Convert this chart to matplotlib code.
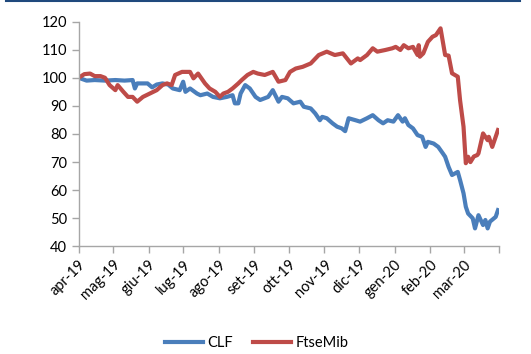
"""CLF vs FtseMib, base 100 (apr-19 = 100)."""
import matplotlib
matplotlib.use("Agg")
import matplotlib.pyplot as plt
from matplotlib.lines import Line2D
import pandas as pd

plt.rcParams["font.family"] = ["Lato", "DejaVu Sans"]

# valori (indice base 100)
clf_dates = [
    "2019-04-01", "2019-04-08", "2019-04-15", "2019-04-24", "2019-05-03", "2019-05-11",
    "2019-05-18", "2019-05-20", "2019-05-22", "2019-05-31", "2019-06-04", "2019-06-08",
    "2019-06-13", "2019-06-18", "2019-06-22", "2019-06-28", "2019-07-01", "2019-07-03",
    "2019-07-07", "2019-07-13", "2019-07-16", "2019-07-22", "2019-07-27", "2019-08-02",
    "2019-08-08", "2019-08-13", "2019-08-15", "2019-08-18", "2019-08-20", "2019-08-24",
    "2019-08-28", "2019-09-02", "2019-09-06", "2019-09-13", "2019-09-17", "2019-09-22",
    "2019-09-25", "2019-09-30", "2019-10-05", "2019-10-11", "2019-10-14", "2019-10-20",
    "2019-10-24", "2019-10-28", "2019-10-30", "2019-11-03", "2019-11-08", "2019-11-12",
    "2019-11-16", "2019-11-19", "2019-11-22", "2019-11-28", "2019-12-02", "2019-12-08",
    "2019-12-13", "2019-12-18", "2019-12-22", "2019-12-26", "2019-12-31", "2020-01-04",
    "2020-01-08", "2020-01-10", "2020-01-13", "2020-01-17", "2020-01-21", "2020-01-25",
    "2020-01-28", "2020-01-30", "2020-02-04", "2020-02-08", "2020-02-12", "2020-02-14",
    "2020-02-17", "2020-02-20", "2020-02-25", "2020-02-27", "2020-03-01", "2020-03-03",
    "2020-03-05", "2020-03-09", "2020-03-11", "2020-03-14", "2020-03-18", "2020-03-20",
    "2020-03-22", "2020-03-24", "2020-03-29", "2020-03-31",
]
clf = [
    100.0, 99.0, 99.2, 99.0, 99.2, 99.0,
    99.2, 96.2, 98.0, 98.0, 96.6, 97.6,
    98.0, 97.6, 96.2, 95.6, 98.6, 95.0,
    96.2, 94.4, 93.8, 94.4, 93.2, 92.7,
    93.2, 93.8, 90.9, 90.9, 94.4, 97.4,
    96.2, 93.2, 92.1, 93.2, 95.6, 91.5,
    93.2, 92.7, 90.9, 91.5, 89.7, 89.1,
    87.3, 84.9, 86.1, 85.6, 83.8, 82.6,
    82.0, 81.0, 85.6, 84.9, 84.4, 85.6,
    86.7, 84.9, 83.8, 84.9, 84.4, 86.7,
    84.4, 85.6, 83.2, 82.0, 79.6, 79.0,
    75.4, 77.2, 76.6, 75.4, 73.1, 71.9,
    68.3, 65.4, 66.5, 63.6, 58.9, 54.1,
    51.7, 50.0, 46.4, 51.1, 47.6, 49.4,
    46.4, 48.8, 50.5, 52.9,
]

ftse_dates = [
    "2019-04-01", "2019-04-06", "2019-04-11", "2019-04-15", "2019-04-20", "2019-04-24",
    "2019-04-28", "2019-05-03", "2019-05-05", "2019-05-10", "2019-05-14", "2019-05-18",
    "2019-05-22", "2019-05-27", "2019-06-02", "2019-06-08", "2019-06-13", "2019-06-17",
    "2019-06-21", "2019-06-24", "2019-06-30", "2019-07-07", "2019-07-10", "2019-07-14",
    "2019-07-20", "2019-07-24", "2019-07-29", "2019-08-02", "2019-08-05", "2019-08-09",
    "2019-08-13", "2019-08-18", "2019-08-21", "2019-08-26", "2019-08-31", "2019-09-04",
    "2019-09-10", "2019-09-17", "2019-09-22", "2019-09-28", "2019-10-02", "2019-10-07",
    "2019-10-13", "2019-10-20", "2019-10-27", "2019-11-03", "2019-11-10", "2019-11-17",
    "2019-11-24", "2019-11-30", "2019-12-02", "2019-12-08", "2019-12-13", "2019-12-17",
    "2019-12-24", "2019-12-30", "2020-01-02", "2020-01-06", "2020-01-09", "2020-01-13",
    "2020-01-17", "2020-01-21", "2020-01-22", "2020-01-23", "2020-01-26", "2020-01-30",
    "2020-02-03", "2020-02-06", "2020-02-10", "2020-02-14", "2020-02-17", "2020-02-20",
    "2020-02-25", "2020-02-27", "2020-03-01", "2020-03-03", "2020-03-05", "2020-03-07",
    "2020-03-10", "2020-03-13", "2020-03-14", "2020-03-18", "2020-03-19", "2020-03-22",
    "2020-03-23", "2020-03-26", "2020-03-29", "2020-03-31",
]
ftse = [
    100.0, 101.3, 101.5, 100.6, 100.6, 100.0,
    97.4, 95.6, 97.4, 95.0, 93.2, 93.2,
    91.5, 93.2, 94.4, 95.6, 97.4, 98.0,
    97.4, 101.0, 102.1, 102.1, 99.8, 101.5,
    98.0, 96.2, 95.0, 93.2, 94.4, 95.0,
    96.2, 98.0, 99.2, 101.0, 102.1, 101.5,
    101.0, 102.1, 98.6, 99.2, 102.1, 103.3,
    103.9, 105.1, 108.1, 109.3, 108.1, 108.7,
    105.1, 106.9, 106.3, 108.1, 110.5, 109.3,
    109.9, 110.5, 111.0, 109.9, 111.6, 110.5,
    111.0, 108.1, 111.6, 107.5, 108.7, 112.8,
    114.6, 115.2, 117.6, 108.1, 107.9, 101.6,
    100.4, 92.0, 82.6, 69.6, 71.9, 70.0,
    72.0, 72.5, 73.1, 80.2, 79.6, 77.8,
    79.0, 75.4, 79.0, 81.4,
]

month_labels = ["apr-19", "mag-19", "giu-19", "lug-19", "ago-19", "set-19", "ott-19",
                "nov-19", "dic-19", "gen-20", "feb-20", "mar-20"]

BLUE = "#4a7ebb"
RED = "#be4b48"
AXIS = "#a6a6a6"

fig = plt.figure(figsize=(5.31, 3.54), dpi=100)
ax = fig.add_axes([0.148, 0.304, 0.792, 0.635])

ax.plot(pd.to_datetime(clf_dates), clf, color=BLUE, lw=3.0, label="CLF",
        solid_joinstyle="round")
ax.plot(pd.to_datetime(ftse_dates), ftse, color=RED, lw=3.0, label="FtseMib",
        solid_joinstyle="round")

ax.set_ylim(40, 120)
ax.set_yticks(range(40, 121, 10))
ax.set_xlim(pd.Timestamp("2019-04-01"), pd.Timestamp("2020-04-01"))
ticks = pd.date_range("2019-04-01", "2020-04-01", freq="MS")
ax.set_xticks(ticks)
ax.set_xticklabels(month_labels + [""], rotation=45, ha="right", va="top",
                   rotation_mode="anchor")

for s in ("top", "right"):
    ax.spines[s].set_visible(False)
for s in ("left", "bottom"):
    ax.spines[s].set_color(AXIS)
    ax.spines[s].set_linewidth(1.0)
ax.tick_params(axis="both", colors=AXIS, length=5, width=1.0, labelcolor="black",
               labelsize=10.5)
ax.tick_params(axis="x", pad=3)

fig.legend(loc="center", bbox_to_anchor=(0.483, 0.03), ncol=2, frameon=False,
           fontsize=10.5, handlelength=2.6, columnspacing=1.4, handletextpad=0.3,
           borderpad=0.2)

# filetto blu in alto
fig.add_artist(Line2D([0.011, 0.98], [0.998, 0.998], transform=fig.transFigure,
                      color="#1f497d", lw=1.5))

fig.savefig("out.png", dpi=100)
